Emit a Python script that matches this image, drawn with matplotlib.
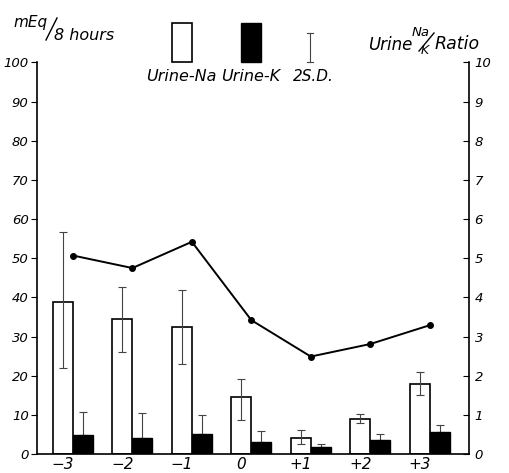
import numpy as np
import matplotlib.pyplot as plt

# days relative to treatment
days = ['\u22123', '\u22122', '\u22121', '0', '+1', '+2', '+3']

# urine Na (mEq / 8 hours) and the ends of its 2 S.D. bar
na = [38.8, 34.4, 32.4, 14.5, 4.2, 8.9, 17.9]
na_lo = [21.9, 26.1, 23.0, 8.8, 2.6, 8.0, 15.1]
na_hi = [56.6, 42.6, 41.8, 19.2, 6.1, 10.3, 20.9]

# urine K (mEq / 8 hours) and upper end of its 2 S.D. bar
k = [4.8, 4.2, 5.0, 3.0, 1.8, 3.7, 5.6]
k_hi = [10.8, 10.5, 10.1, 5.9, 2.5, 5.2, 7.4]

# Na/K ratio
ratio = [5.07, 4.75, 5.42, 3.42, 2.49, 2.81, 3.29]

na = np.array(na)
k = np.array(k)
x = np.arange(len(days))
w = 0.335

plt.rcParams['font.family'] = 'DejaVu Sans'
plt.rcParams['font.style'] = 'italic'

fig = plt.figure(figsize=(5.1, 4.73), dpi=100)
ax = fig.add_axes([0.0725, 0.040, 0.847, 0.828])

ax.bar(x - w / 2, na, w, color='white', edgecolor='black', linewidth=1.2, zorder=2)
ax.bar(x + w / 2, k, w, color='black', edgecolor='black', linewidth=1.0, zorder=2)
ax.errorbar(x - w / 2, na, yerr=[na - np.array(na_lo), np.array(na_hi) - na],
            fmt='none', ecolor='#444444', elinewidth=0.8, capsize=3, capthick=0.8, zorder=3)
ax.errorbar(x + w / 2, k, yerr=[np.zeros(len(k)), np.array(k_hi) - k],
            fmt='none', ecolor='#444444', elinewidth=0.8, capsize=3, capthick=0.8, zorder=1)

ax.set_xlim(-0.605, 6.66)
ax.set_ylim(0, 100)
ax.set_yticks(np.arange(0, 101, 10))
ax.set_xticks(x - w / 2)
ax.set_xticklabels(days, fontsize=11)
ax.tick_params(axis='x', length=0, pad=2)
ax.tick_params(axis='y', direction='out', length=4, labelsize=9.5, pad=2)
ax.spines['top'].set_visible(False)
ax.spines['right'].set_visible(False)
for s in ['left', 'bottom']:
    ax.spines[s].set_linewidth(1.2)

ax2 = ax.twinx()
ax2.plot(x, ratio, color='black', lw=1.4, marker='o', markersize=4, zorder=4)
ax2.set_ylim(0, 10)
ax2.set_yticks(np.arange(0, 11, 1))
ax2.tick_params(axis='y', direction='in', length=4, labelsize=9.5, pad=4)
ax2.spines['top'].set_visible(False)
ax2.spines['left'].set_visible(False)
ax2.spines['bottom'].set_visible(False)
ax2.spines['right'].set_linewidth(1.2)

# axis titles drawn as figure text (pixel positions from top-left)
def ftext(px, py, s, **kw):
    fig.text(px / 510, 1 - py / 473, s, **kw)

def fline(xs, ys, **kw):
    fig.lines.append(plt.Line2D([v / 510 for v in xs], [1 - v / 473 for v in ys],
                                transform=fig.transFigure, **kw))

ftext(13, 22, 'mEq', fontsize=11, va='center')
fline([46, 57], [40, 18], color='black', lw=1.0)
ftext(54, 36, '8 hours', fontsize=11.5, va='center')

ftext(368, 45, 'Urine', fontsize=12, va='center')
ftext(412, 32, 'Na', fontsize=9.5, va='center')
fline([419, 434], [51, 33], color='black', lw=1.0)
ftext(421, 51, 'K', fontsize=9, va='center')
ftext(435, 44, 'Ratio', fontsize=12.5, va='center')

# legend drawn by hand
fig.patches.append(plt.Rectangle((172 / 510, 1 - 62 / 473), 20 / 510, 39 / 473,
                                 transform=fig.transFigure, facecolor='white',
                                 edgecolor='black', linewidth=1.2))
fig.patches.append(plt.Rectangle((241 / 510, 1 - 62 / 473), 20 / 510, 39 / 473,
                                 transform=fig.transFigure, facecolor='black',
                                 edgecolor='black', linewidth=1.0))
fline([310, 310], [33, 62], color='#444444', lw=0.8)
for yy in [33, 62]:
    fline([307, 313], [yy, yy], color='#444444', lw=0.8)
ftext(181, 76, 'Urine-Na', fontsize=11.5, ha='center', va='center')
ftext(251, 76, 'Urine-K', fontsize=11.5, ha='center', va='center')
ftext(313, 76, '2S.D.', fontsize=11, ha='center', va='center')

fig.savefig('out.png', dpi=100)
